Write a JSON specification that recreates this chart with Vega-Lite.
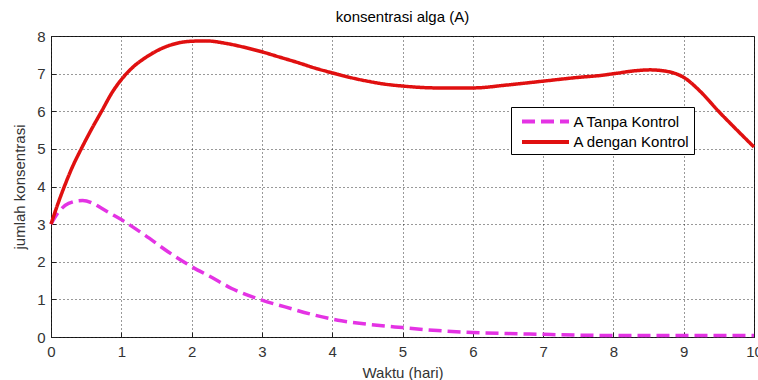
{
  "$schema": "https://vega.github.io/schema/vega-lite/v6.json",
  "width": 703,
  "height": 301,
  "autosize": {"type": "none"},
  "padding": {"left": 51, "top": 36, "right": 4, "bottom": 43},
  "background": "white",
  "title": {"text": "konsentrasi alga (A)", "fontSize": 15, "font": "Liberation Sans", "fontWeight": "normal", "color": "#000", "baseline": "alphabetic", "offset": 14, "dy": 22, "anchor": "middle"},
  "config": {
    "view": {"stroke": "#222", "strokeWidth": 1},
    "axis": {
      "labelFont": "Liberation Sans", "labelFontSize": 15, "labelColor": "#333", "labelFlush": false,
      "ticks": true, "tickSize": -5, "tickColor": "#222", "tickWidth": 1,
      "domain": false, "grid": true, "gridDash": [1, 3], "gridColor": "#000", "gridOpacity": 0.8, "gridWidth": 1,
      "titleFont": "Liberation Sans", "titleFontSize": 15, "titleFontWeight": "normal", "titleColor": "#333"
    },
    "legend": {
      "orient": "none", "legendX": 460, "legendY": 71,
      "symbolType": "M0,0H5.53", "symbolSize": 289, "symbolStrokeWidth": 4, "symbolOffset": -3.5,
      "labelFont": "Liberation Sans", "labelFontSize": 15, "labelColor": "#000", "labelOffset": 41, "labelLimit": 300,
      "padding": 4, "rowPadding": 1.5, "strokeColor": "#000", "fillColor": "#fff", "cornerRadius": 0
    }
  },
  "data": {"values": [
    {"t": 0, "v": 3.0, "s": "A Tanpa Kontrol"},
    {"t": 0.1, "v": 3.3, "s": "A Tanpa Kontrol"},
    {"t": 0.25, "v": 3.55, "s": "A Tanpa Kontrol"},
    {"t": 0.45, "v": 3.63, "s": "A Tanpa Kontrol"},
    {"t": 0.6, "v": 3.55, "s": "A Tanpa Kontrol"},
    {"t": 0.72, "v": 3.42, "s": "A Tanpa Kontrol"},
    {"t": 0.85, "v": 3.28, "s": "A Tanpa Kontrol"},
    {"t": 1.0, "v": 3.12, "s": "A Tanpa Kontrol"},
    {"t": 1.34, "v": 2.7, "s": "A Tanpa Kontrol"},
    {"t": 1.67, "v": 2.26, "s": "A Tanpa Kontrol"},
    {"t": 2.0, "v": 1.87, "s": "A Tanpa Kontrol"},
    {"t": 2.29, "v": 1.58, "s": "A Tanpa Kontrol"},
    {"t": 2.57, "v": 1.29, "s": "A Tanpa Kontrol"},
    {"t": 3.0, "v": 0.98, "s": "A Tanpa Kontrol"},
    {"t": 3.33, "v": 0.8, "s": "A Tanpa Kontrol"},
    {"t": 3.71, "v": 0.6, "s": "A Tanpa Kontrol"},
    {"t": 4.13, "v": 0.43, "s": "A Tanpa Kontrol"},
    {"t": 4.5, "v": 0.34, "s": "A Tanpa Kontrol"},
    {"t": 5.0, "v": 0.25, "s": "A Tanpa Kontrol"},
    {"t": 5.5, "v": 0.17, "s": "A Tanpa Kontrol"},
    {"t": 6.0, "v": 0.12, "s": "A Tanpa Kontrol"},
    {"t": 6.5, "v": 0.09, "s": "A Tanpa Kontrol"},
    {"t": 7.0, "v": 0.07, "s": "A Tanpa Kontrol"},
    {"t": 7.5, "v": 0.05, "s": "A Tanpa Kontrol"},
    {"t": 8.0, "v": 0.04, "s": "A Tanpa Kontrol"},
    {"t": 9.0, "v": 0.04, "s": "A Tanpa Kontrol"},
    {"t": 10.0, "v": 0.04, "s": "A Tanpa Kontrol"},
    {"t": 0, "v": 3.0, "s": "A dengan Kontrol"},
    {"t": 0.1, "v": 3.55, "s": "A dengan Kontrol"},
    {"t": 0.19, "v": 4.0, "s": "A dengan Kontrol"},
    {"t": 0.3, "v": 4.5, "s": "A dengan Kontrol"},
    {"t": 0.43, "v": 5.0, "s": "A dengan Kontrol"},
    {"t": 0.57, "v": 5.5, "s": "A dengan Kontrol"},
    {"t": 0.72, "v": 6.0, "s": "A dengan Kontrol"},
    {"t": 0.87, "v": 6.5, "s": "A dengan Kontrol"},
    {"t": 1.04, "v": 6.93, "s": "A dengan Kontrol"},
    {"t": 1.17, "v": 7.18, "s": "A dengan Kontrol"},
    {"t": 1.34, "v": 7.42, "s": "A dengan Kontrol"},
    {"t": 1.5, "v": 7.6, "s": "A dengan Kontrol"},
    {"t": 1.67, "v": 7.74, "s": "A dengan Kontrol"},
    {"t": 1.85, "v": 7.83, "s": "A dengan Kontrol"},
    {"t": 2.0, "v": 7.86, "s": "A dengan Kontrol"},
    {"t": 2.2, "v": 7.87, "s": "A dengan Kontrol"},
    {"t": 2.5, "v": 7.8, "s": "A dengan Kontrol"},
    {"t": 2.75, "v": 7.7, "s": "A dengan Kontrol"},
    {"t": 3.0, "v": 7.58, "s": "A dengan Kontrol"},
    {"t": 3.25, "v": 7.44, "s": "A dengan Kontrol"},
    {"t": 3.5, "v": 7.3, "s": "A dengan Kontrol"},
    {"t": 3.75, "v": 7.15, "s": "A dengan Kontrol"},
    {"t": 4.0, "v": 7.02, "s": "A dengan Kontrol"},
    {"t": 4.25, "v": 6.9, "s": "A dengan Kontrol"},
    {"t": 4.5, "v": 6.8, "s": "A dengan Kontrol"},
    {"t": 4.75, "v": 6.72, "s": "A dengan Kontrol"},
    {"t": 5.0, "v": 6.67, "s": "A dengan Kontrol"},
    {"t": 5.5, "v": 6.62, "s": "A dengan Kontrol"},
    {"t": 6.0, "v": 6.62, "s": "A dengan Kontrol"},
    {"t": 6.5, "v": 6.7, "s": "A dengan Kontrol"},
    {"t": 7.0, "v": 6.8, "s": "A dengan Kontrol"},
    {"t": 7.5, "v": 6.9, "s": "A dengan Kontrol"},
    {"t": 7.81, "v": 6.95, "s": "A dengan Kontrol"},
    {"t": 8.05, "v": 7.01, "s": "A dengan Kontrol"},
    {"t": 8.28, "v": 7.07, "s": "A dengan Kontrol"},
    {"t": 8.52, "v": 7.1, "s": "A dengan Kontrol"},
    {"t": 8.76, "v": 7.06, "s": "A dengan Kontrol"},
    {"t": 9.0, "v": 6.9, "s": "A dengan Kontrol"},
    {"t": 9.24, "v": 6.52, "s": "A dengan Kontrol"},
    {"t": 9.48, "v": 6.03, "s": "A dengan Kontrol"},
    {"t": 9.71, "v": 5.59, "s": "A dengan Kontrol"},
    {"t": 10.0, "v": 5.05, "s": "A dengan Kontrol"}
  ]},
  "mark": {"type": "line", "interpolate": "monotone", "strokeWidth": 3.5},
  "encoding": {
    "x": {"field": "t", "type": "quantitative", "scale": {"domain": [0, 10], "nice": false, "zero": false},
      "axis": {"values": [0,1,2,3,4,5,6,7,8,9,10], "title": "Waktu (hari)", "labelPadding": 12, "titleY": 40, "titleBaseline": "alphabetic"}},
    "y": {"field": "v", "type": "quantitative", "scale": {"domain": [0, 8], "nice": false},
      "axis": {"values": [0,1,2,3,4,5,6,7,8], "title": "jumlah konsentrasi", "labelPadding": 11, "titleAngle": -90, "titleX": -26.5, "titleY": 150.5, "titleBaseline": "alphabetic", "titleAlign": "center"}},
    "color": {"field": "s", "type": "nominal", "title": null,
      "scale": {"domain": ["A Tanpa Kontrol", "A dengan Kontrol"], "range": ["#e433e4", "#e01010"]}},
    "strokeDash": {"field": "s", "type": "nominal", "title": null,
      "scale": {"domain": ["A Tanpa Kontrol", "A dengan Kontrol"], "range": [[13, 6], [1, 0]]}}
  }
}
